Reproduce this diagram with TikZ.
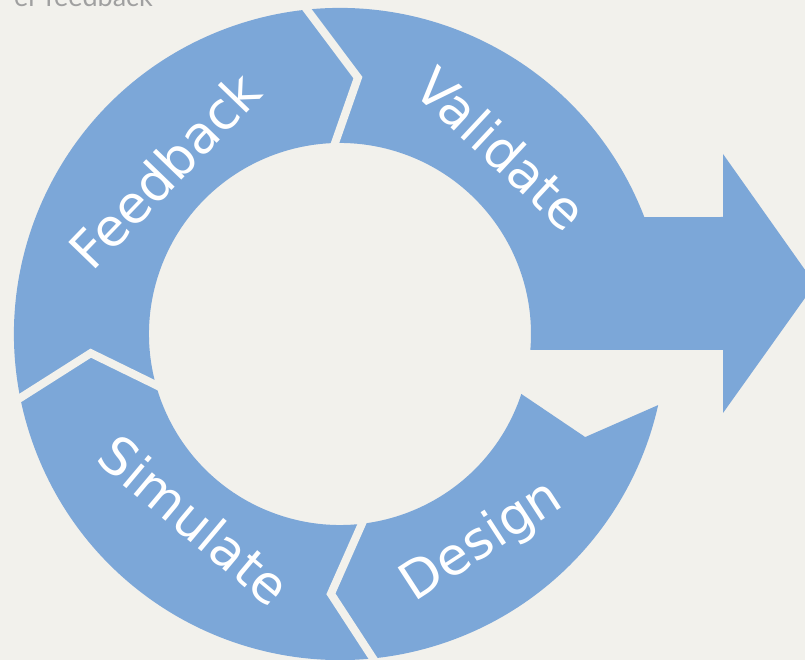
\documentclass[tikz,border=0pt]{standalone}
\usepackage{fontspec}
\setmainfont{DejaVu Sans}
\newfontfamily\notefont{Lato}
\usetikzlibrary{calc}
\definecolor{paper}{RGB}{242,241,236}
\definecolor{cycleblue}{RGB}{124,167,216}
\definecolor{notegray}{RGB}{160,160,160}
\tikzset{
  steplabel/.style={text=white,inner sep=0pt,font=\fontsize{52}{52}\selectfont},
  gapline/.style={draw=paper,line width=8pt,line join=miter}
}
\begin{document}
\begin{tikzpicture}[x=1pt,y=1pt]
  \fill[paper] (-340,-326) rectangle (465,334);
  \useasboundingbox (-340,-326) rectangle (465,334);
  \begin{scope}
    \clip (-340,-326) rectangle (465,334);
    \node[anchor=base east,inner sep=0pt,text=notegray,font=\notefont\fontsize{27}{27}\selectfont] (note) at (-187,327) {er feedback};
    \fill[cycleblue] (21:326) arc[radius=326, start angle=21, end angle=347.4]
      -- (337.2:266) -- (341.7:191) arc[radius=191, start angle=341.7, end angle=-4.8]
      -- (383,-16) -- (383,-79) -- (475,50) -- (383,180) -- (383,117) -- cycle;
    \foreach \a/\b/\c/\r in {95.8/86.0/91.5/257, 191.3/184.4/195.5/250, 275.8/268.0/276.6/260} {
      \draw[gapline] ($(\b:\r)!1.25!(\a:326)$) -- (\b:\r) -- ($(\b:\r)!1.25!(\c:191)$);
    }
    \foreach \name/\ang/\rad/\rot in {Feedback/137/240/46, Validate/49/246/-43, Simulate/232/236/-40, Design/304.4/252/33} {
      \node[steplabel,rotate=\rot] (\name) at (\ang:\rad) {\name};
    }
  \end{scope}
\end{tikzpicture}
\end{document}
